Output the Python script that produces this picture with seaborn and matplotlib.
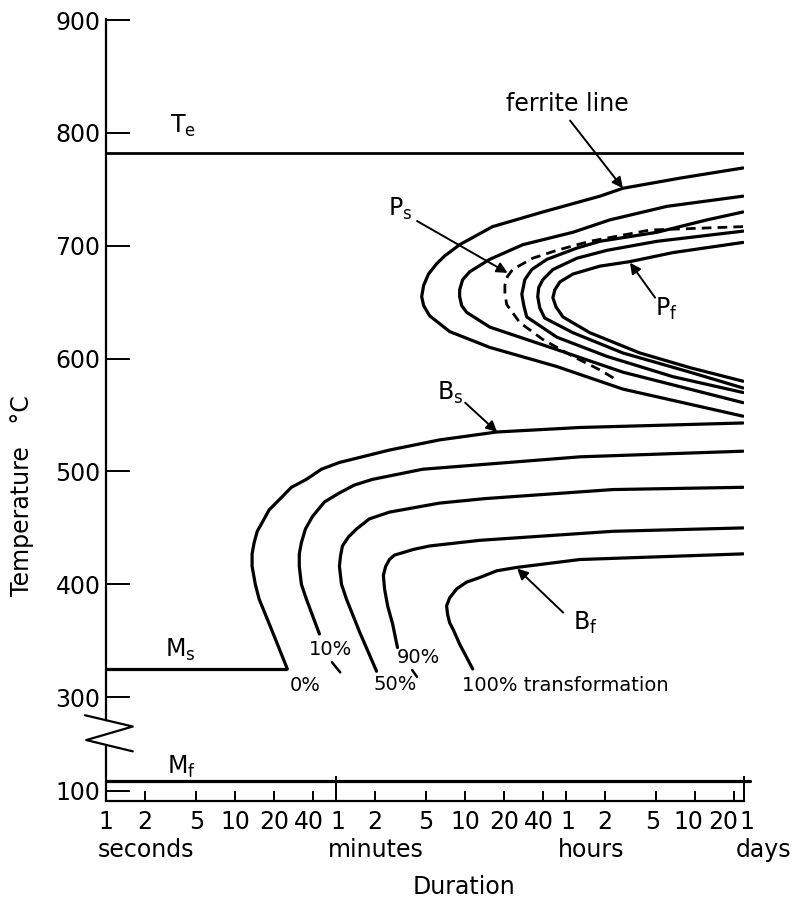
import matplotlib.pyplot as plt
import matplotlib.transforms as mtransforms
import seaborn as sns

# -----------------------------
# Data (time in seconds, temperature in degC)
# -----------------------------
TE = 782
MS = 325
MF = 120

tick_seconds = [1, 2, 5, 10, 20, 40, 60, 120, 300, 600, 1200, 2400,
                3600, 7200, 18000, 36000, 72000, 86400]
tick_labels = ["1", "2", "5", "10", "20", "40", "1", "2", "5", "10", "20", "40",
               "1", "2", "5", "10", "20", "1"]
unit_names = ["seconds", "minutes", "hours", "days"]
unit_starts = [1, 60, 3600, 86400]
temp_ticks = [100, 300, 400, 500, 600, 700, 800, 900]

# pearlite C-curves, upper right end -> nose -> lower right end
ferrite_t = [85000, 27700, 10000, 6640, 2400, 980, 545, 417, 361, 313, 287, 277,
             287, 319, 456, 931, 3080, 10000, 85000]
ferrite_T = [769, 760, 751, 744, 730, 717, 701, 691, 684, 675, 665, 655,
             647, 638, 624, 610, 593, 573, 549]

pearl2_t = [85000, 21950, 7930, 4100, 1680, 931, 652, 575, 545, 545, 565, 618,
            931, 3080, 10000, 85000]
pearl2_T = [744, 735, 723, 712, 701, 688, 677, 670, 661, 655, 647, 641,
            628, 608, 588, 561]

ps_t = [85000, 16200, 5540, 3080, 2000, 1400, 1280, 1220, 1220, 1260, 1590,
        2400, 4100, 6640, 8980]
ps_T = [717, 714, 704, 696, 689, 679, 673, 665, 658, 648, 632,
        617, 602, 590, 581]

pearl4_t = [85000, 44750, 18350, 6640, 4400, 2580, 1970, 1740, 1650, 1710, 1800,
            3080, 7520, 24400, 85000]
pearl4_T = [730, 723, 712, 704, 698, 688, 679, 670, 657, 647, 637,
            619, 602, 584, 570]

pearl5_t = [85000, 18350, 7520, 4400, 2870, 2400, 2230, 2190, 2270, 2480, 4100,
            10000, 33050, 85000]
pearl5_T = [713, 704, 696, 689, 679, 670, 663, 655, 645, 636, 623,
            605, 588, 574]

pf_t = [85000, 24400, 11330, 6640, 4100, 3250, 2970, 2870, 3030, 3430, 5540,
        13540, 33050, 85000]
pf_T = [703, 694, 686, 682, 675, 668, 661, 654, 646, 637, 623,
        605, 592, 580]

# bainite curves, right end -> nose -> lower end
bs_t = [85000, 4645, 1055, 381, 156, 64, 46.4, 35.5, 27.2, 21.9, 18.3, 16.2,
        14.8, 14.0, 13.5, 13.5, 14.3, 15.3, 19.4, 25.3]
bs_T = [543, 539, 535, 528, 519, 508, 502, 493, 486, 475, 466, 455,
        447, 437, 427, 416, 400, 387, 358, 325]

b10_t = [85000, 4645, 778, 282, 115, 83.6, 64, 49, 39.5, 34.9, 32.5, 31.3,
         31.3, 32.5, 35.5, 44.8]
b10_T = [518, 513, 506, 502, 493, 488, 481, 473, 460, 449, 437, 427,
         416, 400, 387, 356]

b50_t = [85000, 8360, 860, 381, 156, 109, 86.7, 75.2, 67.5, 65.2, 64, 66.4,
         72.5, 91.5, 124]
b50_T = [486, 484, 476, 472, 464, 458, 449, 442, 434, 425, 416, 400,
         387, 358, 323]

b90_t = [85000, 8360, 778, 319, 240, 197, 171, 156, 146, 140, 143, 151, 165, 180]
b90_T = [450, 447, 439, 434, 431, 428, 426, 422, 416, 408, 396, 381, 365, 344]

bf_t = [85000, 4645, 1507, 1055, 778, 618, 517, 456, 432, 440, 456, 490, 545, 688]
bf_T = [427, 422, 415, 412, 406, 402, 396, 388, 381, 373, 366, 359, 347, 325]


def on_axis(temp):
    """Below 300 the temperature scale is squeezed after the axis break."""
    return temp if temp >= 300 else 217 + (temp - 100) * 0.45


# -----------------------------
# Figure
# -----------------------------
sns.set_theme(style="white")
plt.rcParams["font.family"] = ["DejaVu Sans"]
plt.rcParams["mathtext.fontset"] = "dejavusans"
plt.rcParams["text.color"] = "black"

fig = plt.figure(figsize=(7.95, 9.06), dpi=100)
ax = fig.add_axes([106 / 795, 1 - 801 / 906, 638 / 795, 782 / 906])

LW = 2.3
solid_curves = [
    (ferrite_t, ferrite_T), (pearl2_t, pearl2_T), (pearl4_t, pearl4_T),
    (pearl5_t, pearl5_T), (pf_t, pf_T),
    (bs_t, bs_T), (b10_t, b10_T), (b50_t, b50_T), (b90_t, b90_T), (bf_t, bf_T),
]
for t, T in solid_curves:
    sns.lineplot(x=t, y=T, sort=False, estimator=None, color="black",
                 linewidth=LW, ax=ax)
sns.lineplot(x=ps_t, y=ps_T, sort=False, estimator=None, color="black",
             linewidth=LW - 0.3, linestyle=(0, (3.5, 2.2)), ax=ax)

ax.set_xscale("log")
ax.set_xlim(1, 86400)
ax.set_ylim(208, 901)

# reference lines
ax.axhline(TE, color="black", linewidth=2.0)
ax.hlines(MS, 1, bs_t[-1], color="black", linewidth=LW)
ax.axhline(on_axis(MF), xmax=1.01, color="black", linewidth=LW, clip_on=False)

# spines with the axis break
for side in ["top", "right"]:
    ax.spines[side].set_visible(False)
ax.spines["left"].set_bounds(280, 901)
for side in ["left", "bottom"]:
    ax.spines[side].set_linewidth(1.6)
    ax.spines[side].set_color("black")
yax = ax.get_yaxis_transform()
ax.plot([0, 0], [208, 257], color="black", linewidth=1.6, transform=yax, clip_on=False)
ax.plot([-0.033, 0.042, -0.031, 0.042], [284, 274, 262, 252], color="black",
        linewidth=1.6, transform=yax, clip_on=False)

# x ticks; labels written by hand so the crowded ones can be nudged apart
ax.set_xticks(tick_seconds)
ax.set_xticklabels([])
ax.xaxis.set_minor_locator(plt.NullLocator())
ax.tick_params(axis="x", direction="in", length=7, width=1.4, colors="black",
               bottom=True)
for tick, sec in zip(ax.xaxis.get_major_ticks(), tick_seconds):
    if sec in (60, 86400):
        tick.tick1line.set_markersize(18)

nudges = {40: -4, 60: 2, 2400: -4, 3600: 2, 18000: -3, 36000: -6,
          72000: -11, 86400: 3}
xax = ax.get_xaxis_transform()
for sec, lab in zip(tick_seconds, tick_labels):
    tr = mtransforms.offset_copy(xax, fig=fig, x=nudges.get(sec, 0), y=0,
                                 units="dots")
    ax.text(sec, -0.027, lab, transform=tr, ha="center", va="center",
            fontsize=17, clip_on=False)

ax.set_yticks([on_axis(v) for v in temp_ticks])
ax.set_yticklabels([str(v) for v in temp_ticks])
ax.tick_params(axis="y", direction="in", length=17, width=1.4, labelsize=17,
               pad=4, colors="black", left=True)

unit_tr = mtransforms.offset_copy(xax, fig=fig, x=-8, y=0, units="dots")
for name, start in zip(unit_names, unit_starts):
    ax.text(start, -0.0627, name, transform=unit_tr, ha="left", va="center",
            fontsize=17, clip_on=False)

ax.text(0.561, -0.110, "Duration", transform=ax.transAxes, ha="center",
        va="center", fontsize=17)
ax.text(-0.132, 0.39, "Temperature   °C", transform=ax.transAxes, ha="center",
        va="center", rotation=90, fontsize=17)

# -----------------------------
# Labels and arrows
# -----------------------------
big = 17
small = 14
ax.text(3.95, 806, r"$\mathrm{T_e}$", fontsize=big, ha="center", va="center")
ax.text(3.74, 342, r"$\mathrm{M_s}$", fontsize=big, ha="center", va="center")
ax.text(3.8, on_axis(MF) + 12, r"$\mathrm{M_f}$", fontsize=big, ha="center",
        va="center")
ax.text(3700, 826, "ferrite line", fontsize=big, ha="center", va="center")
ax.text(189, 733, r"$\mathrm{P_s}$", fontsize=big, ha="center", va="center")
ax.text(21600, 644, r"$\mathrm{P_f}$", fontsize=big, ha="center", va="center")
ax.text(460, 570, r"$\mathrm{B_s}$", fontsize=big, ha="center", va="center")
ax.text(5100, 366, r"$\mathrm{B_f}$", fontsize=big, ha="center", va="center")

arrow_kw = dict(arrowstyle="-|>", color="black", lw=1.4, mutation_scale=16,
                shrinkA=0, shrinkB=0)
arrows = [
    ((3900, 811), (10000, 751)),
    ((255, 722), (1280, 676)),
    ((17740, 654), (11330, 685)),
    ((601, 561), (1062, 535)),
    ((3444, 375), (1518, 414)),
]
for start, tip in arrows:
    ax.annotate("", xy=tip, xytext=start, arrowprops=arrow_kw)

ax.text(34.7, 310, "0%", fontsize=small, ha="center", va="center")
ax.text(54.2, 342, "10%", fontsize=small, ha="center", va="center")
ax.text(172.6, 311, "50%", fontsize=small, ha="center", va="center")
ax.text(260, 335, "90%", fontsize=small, ha="center", va="center")
ax.text(569, 310, "100% transformation", fontsize=small, ha="left", va="center")
ax.plot([56, 64.9], [331, 322], color="black", linewidth=1.8)
ax.plot([234, 255], [324, 318], color="black", linewidth=1.8)

fig.savefig("out.png", dpi=100)
